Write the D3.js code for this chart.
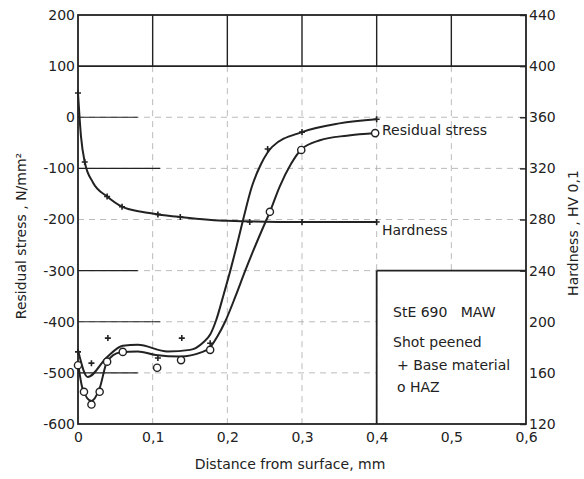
<!DOCTYPE html>
<html>
<head>
<meta charset="utf-8">
<script src="https://cdn.jsdelivr.net/npm/d3@7"></script>
<style>
  body { margin: 0; background: #fff; }
  text { font-family: "DejaVu Sans", sans-serif; fill: #222; }
</style>
</head>
<body>
<div id="chart"></div>
<script>
// tick values
var xTicks = [0, 0.1, 0.2, 0.3, 0.4, 0.5, 0.6];
var stressTicks = [200, 100, 0, -100, -200, -300, -400, -500, -600];
var hvTicks = [440, 400, 360, 320, 280, 240, 200, 160, 120];

// hardness curve (HV 0,1) and its measured points
var hardCurve = [[0, 379], [0.004, 345], [0.009, 325], [0.02, 309], [0.039, 298], [0.059, 290], [0.085, 286], [0.107, 284], [0.137, 282], [0.2, 279], [0.3, 278], [0.4, 278]];
var hardPts = [[0, 379], [0.009, 325], [0.039, 298], [0.059, 290], [0.107, 284], [0.137, 282], [0.23, 278], [0.3, 278], [0.4, 278]];

// residual stress, base material (+)
var baseCurve = [[0, -455], [0.013, -508], [0.039, -469], [0.06, -447], [0.08, -445], [0.12, -458], [0.15, -455], [0.168, -440], [0.177, -425], [0.185, -397], [0.195, -347], [0.204, -300], [0.212, -255], [0.221, -201], [0.233, -135], [0.245, -92], [0.26, -58], [0.3, -29], [0.35, -12], [0.4, -4]];
var basePts = [[0, -459], [0.018, -481], [0.04, -432], [0.107, -471], [0.139, -432], [0.177, -442], [0.254, -62], [0.3, -29], [0.4, -4]];

// residual stress, HAZ (o)
var hazCurve = [[0, -480], [0.006, -530], [0.018, -555], [0.029, -530], [0.039, -478], [0.056, -460], [0.08, -458], [0.104, -465], [0.137, -468], [0.165, -460], [0.177, -450], [0.187, -428], [0.197, -400], [0.211, -350], [0.224, -300], [0.235, -260], [0.246, -222], [0.257, -185], [0.27, -136], [0.285, -92], [0.299, -63], [0.324, -45], [0.36, -36], [0.4, -31]];
var hazPts = [[0, -485], [0.008, -537], [0.018, -562], [0.029, -537], [0.039, -478], [0.06, -459], [0.106, -490], [0.138, -475], [0.177, -455], [0.257, -185], [0.299, -64], [0.398, -31]];

var legendLines = ["StE 690   MAW", "Shot peened", "+ Base material", "o HAZ"];

var W = 584, H = 479;
var mLeft = 78, mRight = 526, mTop = 15, mBottom = 424;

var svg = d3.select("#chart").append("svg")
  .attr("width", W)
  .attr("height", H)
  .style("background-color", "#fff");

var x = d3.scaleLinear().domain([0, 0.6]).range([mLeft, mRight]);
var y = d3.scaleLinear().domain([-600, 200]).range([mBottom, mTop]);
var yh = d3.scaleLinear().domain([120, 440]).range([mBottom, mTop]);

var ink = "#222";

// faint grid
var grid = svg.append("g").attr("stroke", "#aaa").attr("stroke-width", 0.8).attr("stroke-dasharray", "6,5");
[0, -100, -200, -300, -400, -500].forEach(function(v) {
  var end = v >= -200 ? 0.6 : 0.4;
  grid.append("line").attr("x1", x(0)).attr("x2", x(end)).attr("y1", y(v)).attr("y2", y(v));
});
[0.1, 0.2, 0.3, 0.4, 0.5].forEach(function(v) {
  grid.append("line").attr("x1", x(v)).attr("x2", x(v)).attr("y1", y(100)).attr("y2", y(v > 0.4 ? -300 : -600));
});
// remnants of solid grid near the left axis
var solid = svg.append("g").attr("stroke", ink).attr("stroke-width", 1.2);
[[0, 0.08], [-100, 0.11], [-300, 0.08], [-400, 0.11], [-500, 0.08]].forEach(function(d) {
  solid.append("line").attr("x1", x(0)).attr("x2", x(d[1])).attr("y1", y(d[0])).attr("y2", y(d[0]));
});

// frame lines
var frame = svg.append("g").attr("stroke", ink).attr("stroke-width", 1.8).attr("fill", "none");
frame.append("rect").attr("x", mLeft).attr("y", mTop).attr("width", mRight - mLeft).attr("height", mBottom - mTop);
frame.append("line").attr("x1", x(0)).attr("x2", x(0.6)).attr("y1", y(100)).attr("y2", y(100));
[0.1, 0.2, 0.3, 0.4, 0.5].forEach(function(v) {
  frame.append("line").attr("x1", x(v)).attr("x2", x(v)).attr("y1", y(200)).attr("y2", y(100)).attr("stroke-width", 1.4);
});
// legend box
frame.append("line").attr("x1", x(0.4)).attr("x2", x(0.6)).attr("y1", y(-300)).attr("y2", y(-300));
frame.append("line").attr("x1", x(0.4)).attr("x2", x(0.4)).attr("y1", y(-300)).attr("y2", y(-600));

// axes
var leftAxis = svg.append("g").attr("transform", "translate(" + mLeft + ",0)")
  .call(d3.axisLeft(y).tickValues(stressTicks).tickSize(0).tickPadding(3).tickFormat(function(d) { return String(d); }));
var rightAxis = svg.append("g").attr("transform", "translate(" + mRight + ",0)")
  .call(d3.axisRight(yh).tickValues(hvTicks).tickSizeInner(-6).tickSizeOuter(0).tickPadding(3));
var bottomAxis = svg.append("g").attr("transform", "translate(0," + mBottom + ")")
  .call(d3.axisBottom(x).tickValues(xTicks).tickSize(0).tickPadding(8)
    .tickFormat(function(d) { return d === 0 ? "0" : String(d).replace(".", ","); }));
[leftAxis, rightAxis, bottomAxis].forEach(function(a) {
  a.select(".domain").remove();
  a.selectAll("text").attr("font-size", 14).attr("font-family", "DejaVu Sans").attr("fill", ink);
  a.selectAll("line").attr("stroke", ink).attr("stroke-width", 1.4);
});
rightAxis.selectAll("text").attr("x", 3);
rightAxis.selectAll(".tick line").filter(function(d) { return d === 200 || d === 160; }).remove();

// axis titles
svg.append("text").attr("transform", "translate(26,236) rotate(-90)")
  .attr("text-anchor", "middle").attr("font-size", 14).text("Residual stress , N/mm²");
svg.append("text").attr("transform", "translate(578,233) rotate(-90)")
  .attr("text-anchor", "middle").attr("font-size", 14).text("Hardness ,  HV 0,1");
svg.append("text").attr("x", 290).attr("y", 469)
  .attr("text-anchor", "middle").attr("font-size", 14).text("Distance from surface, mm");

// curves
var lineS = d3.line().x(function(d) { return x(d[0]); }).y(function(d) { return y(d[1]); }).curve(d3.curveMonotoneX);
var lineH = d3.line().x(function(d) { return x(d[0]); }).y(function(d) { return yh(d[1]); }).curve(d3.curveMonotoneX);

svg.append("path").datum(hardCurve).attr("d", lineH).attr("fill", "none").attr("stroke", ink).attr("stroke-width", 2);
svg.append("path").datum(baseCurve).attr("d", lineS).attr("fill", "none").attr("stroke", ink).attr("stroke-width", 2);
svg.append("path").datum(hazCurve).attr("d", lineS).attr("fill", "none").attr("stroke", ink).attr("stroke-width", 2);

// markers
function plus(g, data, ys) {
  g.selectAll(null).data(data).enter().append("path")
    .attr("d", function(d) {
      var cx = x(d[0]), cy = ys(d[1]), s = 3;
      return "M" + (cx - s) + "," + cy + "H" + (cx + s) + "M" + cx + "," + (cy - s) + "V" + (cy + s);
    })
    .attr("stroke", ink).attr("stroke-width", 1.6);
}
plus(svg.append("g"), hardPts, yh);
plus(svg.append("g"), basePts, y);

svg.append("g").selectAll("circle").data(hazPts).enter().append("circle")
  .attr("cx", function(d) { return x(d[0]); })
  .attr("cy", function(d) { return y(d[1]); })
  .attr("r", 3.6)
  .attr("fill", "#fff").attr("stroke", ink).attr("stroke-width", 1.4);

// curve labels
svg.append("text").attr("x", 382).attr("y", 135).attr("font-size", 14).text("Residual stress");
svg.append("text").attr("x", 382).attr("y", 235).attr("font-size", 14).text("Hardness");

// legend text
var legY = [317, 347, 370, 392];
var legX = [393, 393, 397, 397];
svg.append("g").selectAll("text").data(legendLines).enter().append("text")
  .attr("x", function(d, i) { return legX[i]; })
  .attr("y", function(d, i) { return legY[i]; })
  .attr("font-size", 14)
  .style("white-space", "pre")
  .text(function(d) { return d; });
</script>
</body>
</html>
